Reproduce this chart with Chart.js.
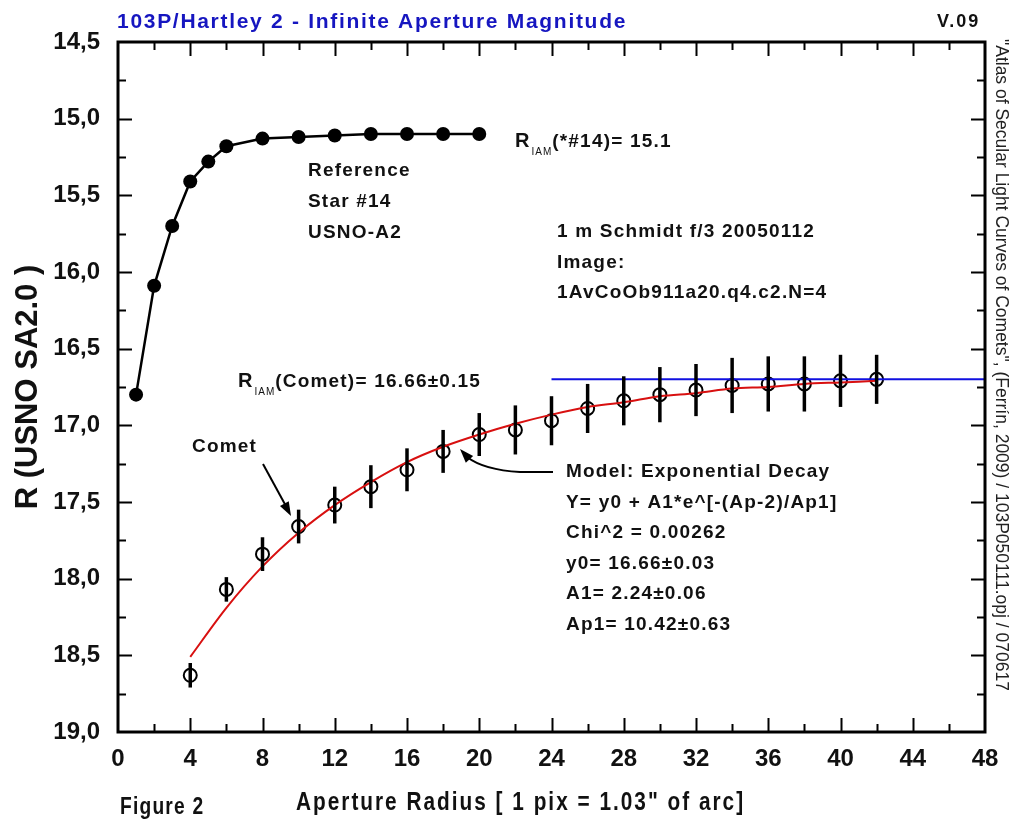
<!DOCTYPE html>
<html>
<head>
<meta charset="utf-8">
<title>103P/Hartley 2 - Infinite Aperture Magnitude</title>
<script src="https://cdn.jsdelivr.net/npm/chart.js@4.4.1/dist/chart.umd.min.js"></script>
<style>
  html, body { margin: 0; padding: 0; background: #fff; }
  canvas { display: block; }
</style>
</head>
<body>
<canvas id="iamChart" width="1013" height="826"></canvas>
<script>
// reference star #14: aperture radius (pix) vs R magnitude
const starRadius = [1, 2, 3, 4, 5, 6, 8, 10, 12, 14, 16, 18, 20];
const starMag = [16.80, 16.09, 15.70, 15.41, 15.28, 15.18, 15.13, 15.12, 15.11, 15.10, 15.10, 15.10, 15.10];

// comet photometry and its error bars
const cometRadius = [4, 6, 8, 10, 12, 14, 16, 18, 20, 22, 24, 26, 28, 30, 32, 34, 36, 38, 40, 42];
const cometMag = [18.63, 18.07, 17.84, 17.66, 17.52, 17.40, 17.29, 17.17, 17.06, 17.03, 16.97, 16.89, 16.84, 16.80, 16.77, 16.74, 16.73, 16.73, 16.71, 16.70];
const cometErr = [0.08, 0.08, 0.11, 0.11, 0.12, 0.14, 0.14, 0.14, 0.14, 0.16, 0.16, 0.16, 0.16, 0.18, 0.17, 0.18, 0.18, 0.18, 0.17, 0.16];

// exponential decay model curve
const fitRadius = [4, 6, 8, 10, 12, 14, 16, 18, 20, 22, 24, 26, 28, 30, 32, 34, 36, 38, 40, 42];
const fitMag = [18.51, 18.19, 17.92, 17.70, 17.52, 17.37, 17.24, 17.14, 17.06, 16.99, 16.93, 16.88, 16.85, 16.81, 16.79, 16.76, 16.75, 16.73, 16.72, 16.71];

// asymptotic (infinite aperture) level
const iamRadius = [24, 48];
const iamMag = [16.70, 16.70];

// tick labels
const xTickLabels = ['0', '4', '8', '12', '16', '20', '24', '28', '32', '36', '40', '44', '48'];
const yTickLabels = ['14,5', '15,0', '15,5', '16,0', '16,5', '17,0', '17,5', '18,0', '18,5', '19,0'];

const toPoints = (xs, ys) => xs.map((x, i) => ({ x: x, y: ys[i] }));

const sans = '"Liberation Sans", Arial, Helvetica, sans-serif';

function spaced(ctx, text, x, y, font, spacing, color, squeeze) {
    const sx = squeeze || 1;
    ctx.save();
    ctx.font = font;
    ctx.letterSpacing = spacing + 'px';
    ctx.fillStyle = color || '#111';
    ctx.textBaseline = 'alphabetic';
    ctx.textAlign = 'left';
    ctx.translate(x, y);
    ctx.scale(sx, 1);
    ctx.fillText(text, 0, 0);
    const w = ctx.measureText(text).width * sx;
    ctx.restore();
    return w;
}

// "R" with IAM subscript followed by the rest of the label
function riamLabel(ctx, x, y, rest) {
    let cx = x;
    cx += spaced(ctx, 'R', cx, y, 'bold 20px ' + sans, 1);
    cx += spaced(ctx, 'IAM', cx + 1, y + 8, '10px ' + sans, 1) + 1;
    spaced(ctx, rest, cx, y, 'bold 19px ' + sans, 1.2);
}

function arrow(ctx, fromX, fromY, toX, toY) {
    const ang = Math.atan2(toY - fromY, toX - fromX);
    const len = 14, half = 5;
    ctx.beginPath();
    ctx.moveTo(toX, toY);
    ctx.lineTo(toX - len * Math.cos(ang) + half * Math.sin(ang), toY - len * Math.sin(ang) - half * Math.cos(ang));
    ctx.lineTo(toX - len * Math.cos(ang) - half * Math.sin(ang), toY - len * Math.sin(ang) + half * Math.cos(ang));
    ctx.closePath();
    ctx.fill();
}

// error bars for the comet series
const errorBars = {
    id: 'errorBars',
    afterDatasetsDraw(chart) {
        const { ctx, scales: { x, y } } = chart;
        ctx.save();
        ctx.strokeStyle = '#000';
        ctx.lineWidth = 3.5;
        cometRadius.forEach((r, i) => {
            const px = x.getPixelForValue(r);
            ctx.beginPath();
            ctx.moveTo(px, y.getPixelForValue(cometMag[i] - cometErr[i]));
            ctx.lineTo(px, y.getPixelForValue(cometMag[i] + cometErr[i]));
            ctx.stroke();
        });
        ctx.restore();
    }
};

// boxed frame with inward ticks on all four sides
const frameTicks = {
    id: 'frameTicks',
    afterDatasetsDraw(chart) {
        const { ctx, chartArea: a, scales: { x, y } } = chart;
        ctx.save();
        ctx.strokeStyle = '#000';
        ctx.lineWidth = 2;
        x.ticks.forEach(t => {
            if (t.value <= 0 || t.value >= 48) return;
            const px = Math.round(x.getPixelForValue(t.value)) + 0.5;
            const len = t.value % 4 === 0 ? 14 : 8;
            ctx.beginPath();
            ctx.moveTo(px, a.bottom); ctx.lineTo(px, a.bottom - len);
            ctx.moveTo(px, a.top); ctx.lineTo(px, a.top + len);
            ctx.stroke();
        });
        y.ticks.forEach(t => {
            if (t.value <= 14.5 || t.value >= 19) return;
            const py = Math.round(y.getPixelForValue(t.value)) + 0.5;
            const major = Math.round(t.value * 4) % 2 === 0;
            const len = major ? 14 : 8;
            ctx.beginPath();
            ctx.moveTo(a.left, py); ctx.lineTo(a.left + len, py);
            ctx.moveTo(a.right, py); ctx.lineTo(a.right - len, py);
            ctx.stroke();
        });
        ctx.lineWidth = 3;
        ctx.strokeRect(a.left, a.top, a.right - a.left, a.bottom - a.top);
        ctx.restore();
    }
};

// titles, notes and arrows
const notes = {
    id: 'notes',
    afterDraw(chart) {
        const ctx = chart.ctx;
        const b = 'bold 19px ' + sans;

        spaced(ctx, '103P/Hartley 2 - Infinite Aperture Magnitude', 117, 28, 'bold 21px ' + sans, 1.7, '#1616c0');
        spaced(ctx, 'V.09', 937, 27, 'bold 18px ' + sans, 2, '#111');

        riamLabel(ctx, 515, 147, '(*#14)= 15.1');
        spaced(ctx, 'Reference', 308, 176, b, 1.2);
        spaced(ctx, 'Star #14', 308, 207, b, 1.2);
        spaced(ctx, 'USNO-A2', 308, 238, b, 1.2);

        spaced(ctx, '1 m Schmidt f/3 20050112', 557, 237, b, 1.2);
        spaced(ctx, 'Image:', 557, 268, b, 1.2);
        spaced(ctx, '1AvCoOb911a20.q4.c2.N=4', 557, 298, b, 1.2);

        riamLabel(ctx, 238, 387, '(Comet)= 16.66\u00b10.15');
        spaced(ctx, 'Comet', 192, 452, b, 1.2);

        const model = ['Model: Exponential Decay', 'Y= y0 + A1*e^[-(Ap-2)/Ap1]', 'Chi^2 = 0.00262',
            'y0= 16.66\u00b10.03', 'A1= 2.24\u00b10.06', 'Ap1= 10.42\u00b10.63'];
        model.forEach((s, i) => spaced(ctx, s, 566, 477 + i * 30.6, b, 1.2));

        // arrows
        ctx.save();
        ctx.strokeStyle = '#000';
        ctx.fillStyle = '#000';
        ctx.lineWidth = 2;
        ctx.beginPath();
        ctx.moveTo(263, 464);
        ctx.lineTo(287, 508);
        ctx.stroke();
        arrow(ctx, 263, 464, 291, 516);

        ctx.beginPath();
        ctx.moveTo(553, 472);
        ctx.lineTo(520, 472);
        ctx.quadraticCurveTo(484, 470, 467, 457);
        ctx.stroke();
        arrow(ctx, 472, 462, 460, 449);
        ctx.restore();

        // rotated source note on the right edge
        ctx.save();
        ctx.translate(1001, 39);
        ctx.rotate(Math.PI / 2);
        ctx.font = '17.5px ' + sans;
        ctx.fillStyle = '#222';
        ctx.textBaseline = 'middle';
        ctx.fillText('"Atlas of Secular Light Curves of Comets", (Ferr\u00edn, 2009) / 103P050111.opj / 070617', 0, 0);
        ctx.restore();

        // x axis caption, condensed
        spaced(ctx, 'Figure 2', 120, 814, 'bold 24px ' + sans, 1.5, '#111', 0.8);
        spaced(ctx, 'Aperture Radius [ 1 pix = 1.03" of arc]', 296, 810, 'bold 26px ' + sans, 2.5, '#111', 0.8);
    }
};

const ctx = document.getElementById('iamChart').getContext('2d');
new Chart(ctx, {
    type: 'scatter',
    data: {
        datasets: [
            {
                label: 'Model',
                data: toPoints(fitRadius, fitMag),
                showLine: true,
                borderColor: '#d81010',
                borderWidth: 2,
                pointRadius: 0,
                tension: 0.4,
                cubicInterpolationMode: 'monotone'
            },
            {
                label: 'R IAM',
                data: toPoints(iamRadius, iamMag),
                showLine: true,
                borderColor: '#1010e0',
                borderWidth: 2,
                pointRadius: 0
            },
            {
                label: 'Reference Star #14',
                data: toPoints(starRadius, starMag),
                showLine: true,
                borderColor: '#000',
                borderWidth: 2.5,
                pointRadius: 7,
                pointBackgroundColor: '#000',
                pointBorderColor: '#000',
                pointBorderWidth: 0
            },
            {
                label: 'Comet',
                data: toPoints(cometRadius, cometMag),
                showLine: false,
                pointRadius: 6.5,
                pointBackgroundColor: 'rgba(0,0,0,0)',
                pointBorderColor: '#000',
                pointBorderWidth: 2
            }
        ]
    },
    options: {
        responsive: false,
        animation: false,
        devicePixelRatio: 1,
        layout: { padding: { top: 42, right: 28, left: 0, bottom: 0 } },
        plugins: {
            legend: { display: false },
            tooltip: { enabled: false }
        },
        scales: {
            x: {
                type: 'linear',
                min: 0,
                max: 48,
                grid: { display: false, drawTicks: false },
                border: { display: false },
                ticks: {
                    stepSize: 2,
                    autoSkip: false,
                    maxRotation: 0,
                    padding: 13,
                    color: '#111',
                    font: { family: sans, size: 24, weight: 'bold' },
                    callback: v => {
                        const k = Math.round(v / 2);
                        return k % 2 === 0 ? xTickLabels[k / 2] : '';
                    }
                },
                afterFit: s => { s.height = 94; }
            },
            y: {
                type: 'linear',
                reverse: true,
                min: 14.5,
                max: 19,
                grid: { display: false, drawTicks: false },
                border: { display: false },
                ticks: {
                    stepSize: 0.25,
                    autoSkip: false,
                    padding: 18,
                    color: '#111',
                    font: { family: sans, size: 24, weight: 'bold' },
                    callback: v => {
                        const k = Math.round((v - 14.5) * 4);
                        return k % 2 === 0 ? yTickLabels[k / 2] : '';
                    }
                },
                title: {
                    display: true,
                    text: 'R (USNO SA2.0 )',
                    color: '#111',
                    font: { family: sans, size: 31, weight: 'bold' },
                    padding: { top: 10 }
                },
                afterFit: s => { s.width = 118; }
            }
        }
    },
    plugins: [errorBars, frameTicks, notes]
});
</script>
</body>
</html>
